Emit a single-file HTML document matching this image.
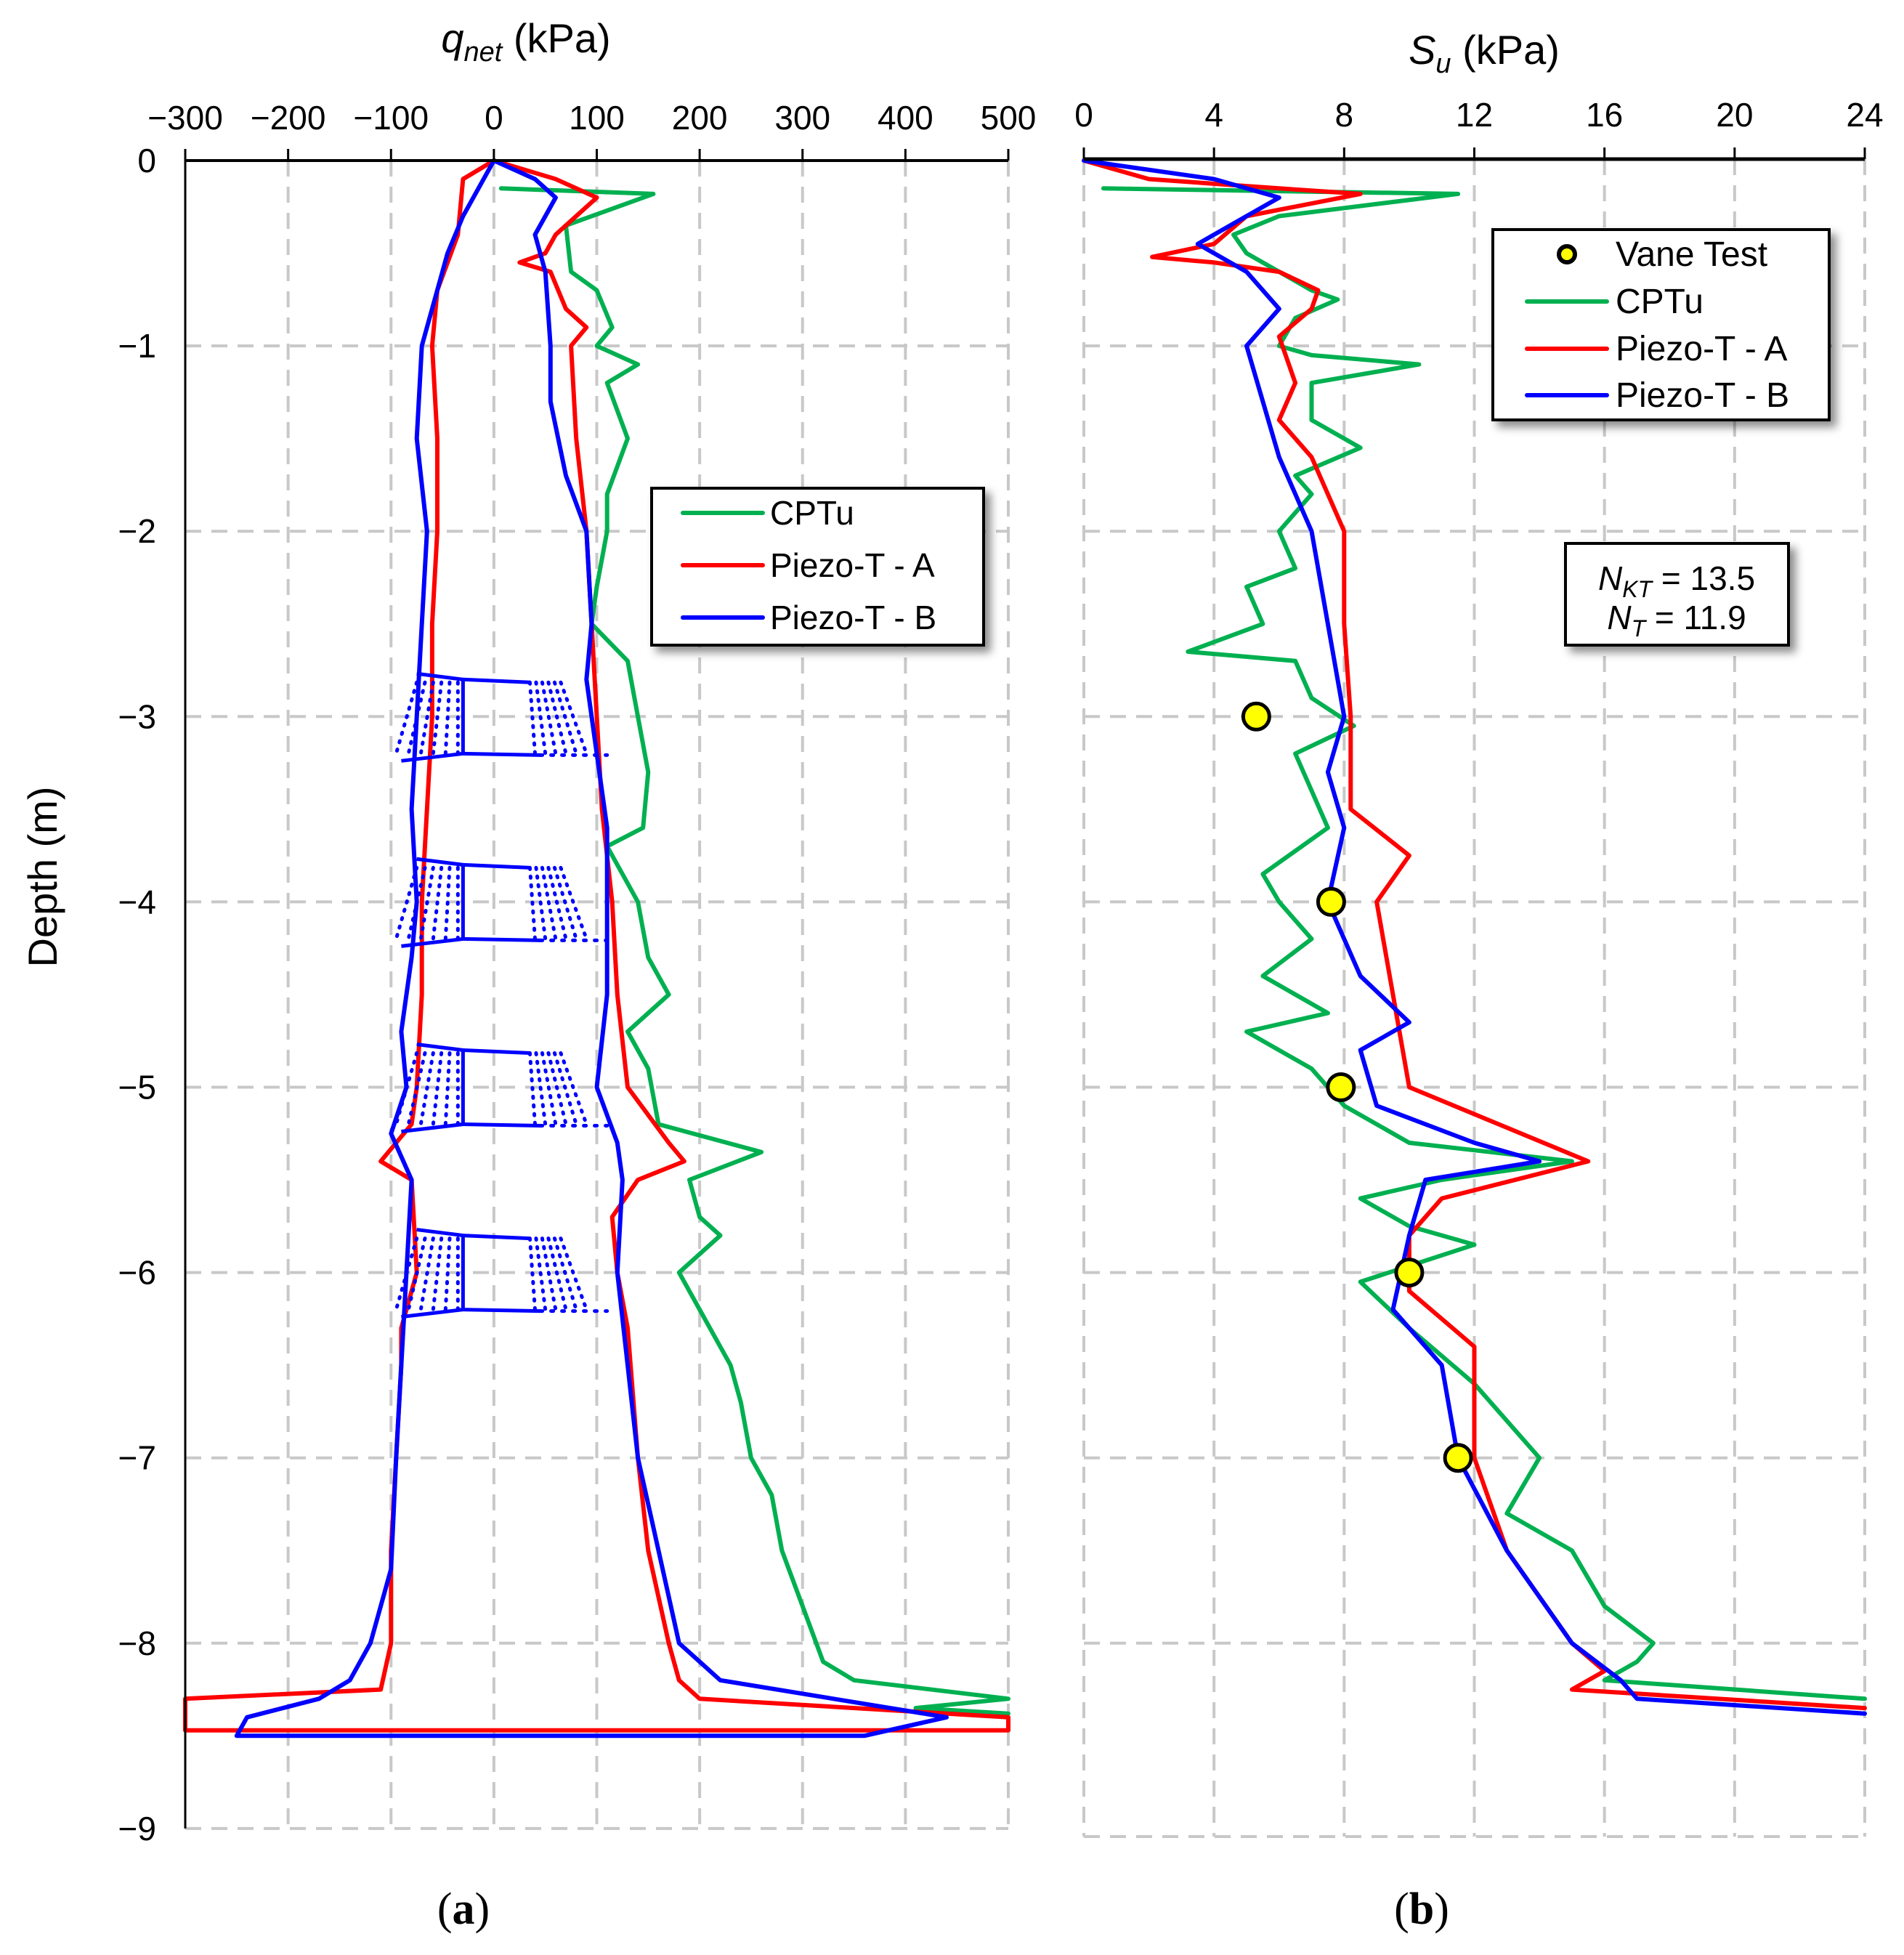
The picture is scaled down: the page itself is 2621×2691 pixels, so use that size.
<!DOCTYPE html>
<html><head><meta charset="utf-8"><style>
html,body{margin:0;padding:0;background:#fff;}
svg{display:block;font-family:"Liberation Sans",sans-serif;}
</style></head><body>
<svg id="fig" width="2621" height="2691" viewBox="0 0 2621 2691" xmlns="http://www.w3.org/2000/svg">
<defs>
<filter id="sh" x="-10%" y="-10%" width="130%" height="130%"><feDropShadow dx="8" dy="8" stdDeviation="6" flood-color="#000" flood-opacity="0.45"/></filter>
</defs>
<g id="gridA"></g>
<g id="gridB"></g>
<g id="plotA"></g>
<g id="plotB"></g>
<g id="axes"></g>

<text x="724" y="72" font-size="56" text-anchor="middle"><tspan font-style="italic">q</tspan><tspan font-style="italic" font-size="38" dy="12">net</tspan><tspan dy="-12"> (kPa)</tspan></text>
<text x="2043" y="88" font-size="56" text-anchor="middle"><tspan font-style="italic">S</tspan><tspan font-style="italic" font-size="38" dy="12">u</tspan><tspan dy="-12"> (kPa)</tspan></text>
<text transform="translate(78,1207) rotate(-90)" font-size="56" text-anchor="middle">Depth (m)</text>
<text x="638" y="2648" font-size="62" font-family="Liberation Serif, serif" text-anchor="middle">(<tspan font-weight="bold">a</tspan>)</text>
<text x="1957" y="2648" font-size="62" font-family="Liberation Serif, serif" text-anchor="middle">(<tspan font-weight="bold">b</tspan>)</text>

<g>
<rect x="897" y="672" width="457" height="216" fill="#fff" stroke="#000" stroke-width="4" filter="url(#sh)"/>
<line x1="940" y1="706" x2="1050" y2="706" stroke="#00b050" stroke-width="6" stroke-linecap="round"/>
<text x="1060" y="722" font-size="46">CPTu</text>
<line x1="940" y1="778" x2="1050" y2="778" stroke="#ff0000" stroke-width="6" stroke-linecap="round"/>
<text x="1060" y="794" font-size="46">Piezo-T - A</text>
<line x1="940" y1="850" x2="1050" y2="850" stroke="#0000ff" stroke-width="6" stroke-linecap="round"/>
<text x="1060" y="866" font-size="46">Piezo-T - B</text>
</g>
<g>
<rect x="2055" y="316" width="463" height="262" fill="#fff" stroke="#000" stroke-width="4" filter="url(#sh)"/>
<circle cx="2157" cy="350" r="11" fill="#ffff00" stroke="#000" stroke-width="6"/>
<text x="2224" y="366" font-size="48">Vane Test</text>
<line x1="2102" y1="415" x2="2212" y2="415" stroke="#00b050" stroke-width="6" stroke-linecap="round"/>
<text x="2224" y="431" font-size="48">CPTu</text>
<line x1="2102" y1="480" x2="2212" y2="480" stroke="#ff0000" stroke-width="6" stroke-linecap="round"/>
<text x="2224" y="496" font-size="48">Piezo-T - A</text>
<line x1="2102" y1="544" x2="2212" y2="544" stroke="#0000ff" stroke-width="6" stroke-linecap="round"/>
<text x="2224" y="560" font-size="48">Piezo-T - B</text>
</g>
<g>
<rect x="2155" y="748" width="307" height="140" fill="#fff" stroke="#000" stroke-width="4" filter="url(#sh)"/>
<text x="2308" y="812" font-size="46" text-anchor="middle"><tspan font-style="italic">N</tspan><tspan font-style="italic" font-size="32" dy="10">KT</tspan><tspan dy="-10"> = 13.5</tspan></text>
<text x="2308" y="866" font-size="46" text-anchor="middle"><tspan font-style="italic">N</tspan><tspan font-style="italic" font-size="32" dy="10">T</tspan><tspan dy="-10"> = 11.9</tspan></text>
</g>
</svg>
<script>
// ---- data (depth in m, value) ----
const qTicks=[-300,-200,-100,0,100,200,300,400,500];
const suTicks=[0,4,8,12,16,20,24];
const depthTicks=[0,-1,-2,-3,-4,-5,-6,-7,-8,-9];
const cptuQD=[-0.15,-0.18,-0.35,-0.6,-0.7,-0.9,-1.0,-1.1,-1.2,-1.5,-1.8,-2.0,-2.3,-2.5,-2.7,-3.0,-3.3,-3.6,-3.7,-4.0,-4.3,-4.5,-4.7,-4.9,-5.2,-5.35,-5.5,-5.7,-5.8,-6.0,-6.2,-6.5,-6.7,-7.0,-7.2,-7.5,-7.8,-8.1,-8.2,-8.3,-8.35,-8.38];
const cptuQV=[7,155,70,75,100,115,100,140,110,130,110,110,100,95,130,140,150,145,110,140,150,170,130,150,160,260,190,200,220,180,200,230,240,250,270,280,300,320,350,500,410,500];
const pAQD=[0,-0.1,-0.2,-0.4,-0.5,-0.55,-0.6,-0.8,-0.9,-1.0,-1.5,-2.0,-2.5,-3.0,-3.5,-4.0,-4.5,-5.0,-5.3,-5.4,-5.5,-5.7,-6.0,-6.3,-7.0,-7.5,-8.0,-8.2,-8.3,-8.4,-8.47,-8.47,-8.3,-8.25,-8.0,-7.5,-7.0,-6.5,-6.3,-6.0,-5.5,-5.4,-5.2,-5.0,-4.5,-4.0,-3.5,-3.0,-2.5,-2.0,-1.5,-1.0,-0.7,-0.4,-0.1,0];
const pAQV=[0,60,100,60,50,25,55,70,90,75,80,90,95,100,105,115,120,130,170,185,140,115,120,130,140,150,170,180,200,500,500,-300,-300,-110,-100,-100,-95,-90,-90,-75,-80,-110,-80,-75,-70,-70,-65,-60,-60,-55,-55,-60,-55,-35,-30,0];
const pBQD=[0,-0.1,-0.2,-0.4,-0.6,-1.0,-1.3,-1.7,-2.0,-2.5,-2.8,-3.0,-3.6,-4.0,-4.5,-5.0,-5.3,-5.5,-6.0,-6.5,-7.0,-7.5,-8.0,-8.2,-8.4,-8.5,-8.5,-8.4,-8.3,-8.2,-8.0,-7.6,-7.0,-6.5,-6.0,-5.5,-5.25,-5.0,-4.7,-4.3,-4.0,-3.5,-3.0,-2.5,-2.0,-1.5,-1.0,-0.5,-0.3,0];
const pBQV=[0,40,60,40,50,55,55,70,90,95,90,95,110,110,110,100,120,125,120,130,140,160,180,220,440,360,-250,-240,-170,-140,-120,-100,-95,-90,-85,-80,-100,-85,-90,-80,-75,-80,-75,-70,-65,-75,-70,-45,-30,0];
const holdDepths=[-2.8,-3.8,-4.8,-5.8];
const cptuSD=[-0.15,-0.18,-0.3,-0.4,-0.5,-0.6,-0.7,-0.75,-0.85,-1.0,-1.05,-1.1,-1.2,-1.4,-1.55,-1.7,-1.8,-2.0,-2.2,-2.3,-2.5,-2.65,-2.7,-2.9,-3.05,-3.2,-3.4,-3.6,-3.85,-4.0,-4.2,-4.4,-4.6,-4.7,-4.9,-5.1,-5.3,-5.4,-5.5,-5.6,-5.75,-5.85,-6.05,-6.3,-6.6,-7.0,-7.3,-7.5,-7.8,-8.0,-8.1,-8.2,-8.3];
const cptuSV=[0.6,11.5,6,4.6,5,6,7,7.8,6.5,6,7,10.3,7,7,8.5,6.5,7,6,6.5,5,5.5,3.2,6.5,7,8.3,6.5,7,7.5,5.5,6,7,5.5,7.5,5,7,8,10,15,11,8.5,10,12,8.5,10,12,14,13,15,16,17.5,17,16,24];
const pASD=[0,-0.1,-0.15,-0.18,-0.3,-0.45,-0.52,-0.55,-0.6,-0.7,-0.8,-0.95,-1.2,-1.4,-1.6,-1.8,-2.0,-2.5,-3.0,-3.5,-3.75,-4.0,-4.5,-5.0,-5.4,-5.6,-5.8,-6.1,-6.4,-7.0,-7.5,-8.0,-8.15,-8.25,-8.35];
const pASV=[0,2,6,8.5,5,4,2.1,4,6,7.2,7,6,6.5,6,7,7.5,8,8,8.2,8.2,10,9,9.5,10,15.5,11,10,10,12,12,13,15,16,15,24];
const pBSD=[0,-0.1,-0.2,-0.4,-0.45,-0.6,-0.8,-1.0,-1.3,-1.6,-2.0,-2.5,-3.0,-3.3,-3.6,-4.0,-4.4,-4.65,-4.8,-5.1,-5.3,-5.4,-5.5,-5.8,-6.2,-6.5,-7.0,-7.5,-8.0,-8.2,-8.3,-8.38];
const pBSV=[0,4,6,4,3.5,5,6,5,5.5,6,7,7.5,8,7.5,8,7.5,8.5,10,8.5,9,12,14,10.5,10,9.5,11,11.5,13,15,16.5,17,24];
const vaneD=[-3,-4,-5,-6,-7];
const vaneV=[5.3,7.6,7.9,10,11.5];

// ---- scales ----
const Y0=221,PXM=255.1;
const yS=d=>Y0-d*PXM;
const xA=v=>255+(v+300)*(1133/800);
const xB=v=>1492+v*(1075/24);
const NS='http://www.w3.org/2000/svg';
function mk(tag,attrs,parent){const e=document.createElementNS(NS,tag);for(const k in attrs)e.setAttribute(k,attrs[k]);parent.appendChild(e);return e;}
const gA=document.getElementById('gridA'),gB=document.getElementById('gridB'),pA=document.getElementById('plotA'),pB=document.getElementById('plotB'),ax=document.getElementById('axes');
const gridStyle={stroke:'#c8c8c8','stroke-width':4,'stroke-dasharray':'22 14'};
// grid A
qTicks.forEach(v=>{if(v===-300)return;const l=mk('line',Object.assign({x1:xA(v),x2:xA(v),y1:Y0,y2:yS(-9)},gridStyle),gA);

});
depthTicks.forEach(d=>{if(d===0)return;const l=mk('line',Object.assign({x1:xA(-300),x2:xA(500),y1:yS(d),y2:yS(d)},gridStyle),gA);

});
// grid B
suTicks.forEach(v=>{const l=mk('line',Object.assign({x1:xB(v),x2:xB(v),y1:219,y2:2528},gridStyle),gB);

});
depthTicks.forEach(d=>{if(d===0)return;const yy=d===-9?2528:yS(d);const l=mk('line',Object.assign({x1:xB(0),x2:xB(24),y1:yy,y2:yy},gridStyle),gB);

});
// axes
mk('line',{x1:xA(-300),x2:xA(500),y1:Y0,y2:Y0,stroke:'#000','stroke-width':4},ax);
mk('line',{x1:xA(-300),x2:xA(-300),y1:Y0,y2:yS(-9),stroke:'#000','stroke-width':3},ax);
mk('line',{x1:xB(0),x2:xB(24),y1:219,y2:219,stroke:'#000','stroke-width':5},ax);
qTicks.forEach(v=>{mk('line',{x1:xA(v),x2:xA(v),y1:Y0-16,y2:Y0,stroke:'#000','stroke-width':3},ax);
const t=mk('text',{x:xA(v),y:178,'font-size':46,'text-anchor':'middle'},ax);t.textContent=(v<0?'\u2212'+(-v):v);

});
suTicks.forEach(v=>{mk('line',{x1:xB(v),x2:xB(v),y1:203,y2:219,stroke:'#000','stroke-width':3},ax);
const t=mk('text',{x:xB(v),y:174,'font-size':46,'text-anchor':'middle'},ax);t.textContent=v;

});
depthTicks.forEach(d=>{const t=mk('text',{x:215,y:yS(d)+16,'font-size':46,'text-anchor':'end'},ax);t.textContent=(d<0?'\u2212'+(-d):d);

});
// series
function line(D,V,xf,color,parent,name){const pts=D.map((d,i)=>xf(V[i]).toFixed(1)+','+yS(d).toFixed(1)).join(' ');
const p=mk('polyline',{points:pts,fill:'none',stroke:color,'stroke-width':6,'stroke-linejoin':'round','stroke-linecap':'round'},parent);

}
line(cptuQD,cptuQV,xA,'#00b050',pA,'cptu-qnet-line');
line(pAQD,pAQV,xA,'#ff0000',pA,'piezo-a-qnet-line');
line(pBQD,pBQV,xA,'#0000ff',pA,'piezo-b-qnet-line');
// holds (dissipation pauses)
holdDepths.forEach(h=>{const g=mk('g',{},pA);


const t=yS(h),b=yS(h-0.4);
mk('line',{x1:xA(-75),y1:t-8,x2:xA(-30),y2:t,stroke:'#0000ff','stroke-width':5},g);
mk('line',{x1:xA(-30),y1:t,x2:xA(35),y2:t+4,stroke:'#0000ff','stroke-width':5},g);
mk('line',{x1:xA(-30),y1:t,x2:xA(-30),y2:b,stroke:'#0000ff','stroke-width':5},g);
mk('line',{x1:xA(-90),y1:b+10,x2:xA(-30),y2:b,stroke:'#0000ff','stroke-width':5},g);
mk('line',{x1:xA(-30),y1:b,x2:xA(45),y2:b+2,stroke:'#0000ff','stroke-width':5},g);
mk('line',{x1:xA(45),y1:b+2,x2:xA(110),y2:b+2,stroke:'#0000ff','stroke-width':5,'stroke-dasharray':'3 12','stroke-linecap':'round'},g);
[0,1,2,3,4,5].forEach(k=>{
 mk('line',{x1:xA(-35-k*8),y1:t+4,x2:xA(-35-k*12),y2:b,stroke:'#0000ff','stroke-width':5,'stroke-dasharray':'2 10','stroke-linecap':'round'},g);
 mk('line',{x1:xA(35+k*6),y1:t+4,x2:xA(40+k*10),y2:b,stroke:'#0000ff','stroke-width':5,'stroke-dasharray':'2 10','stroke-linecap':'round'},g);
});});
line(cptuSD,cptuSV,xB,'#00b050',pB,'cptu-su-line');
line(pASD,pASV,xB,'#ff0000',pB,'piezo-a-su-line');
line(pBSD,pBSV,xB,'#0000ff',pB,'piezo-b-su-line');
vaneD.forEach((d,i)=>{const c=mk('circle',{cx:xB(vaneV[i]),cy:yS(d),r:18,fill:'#ffff00',stroke:'#000','stroke-width':5},pB);

});
</script>
</body></html>
